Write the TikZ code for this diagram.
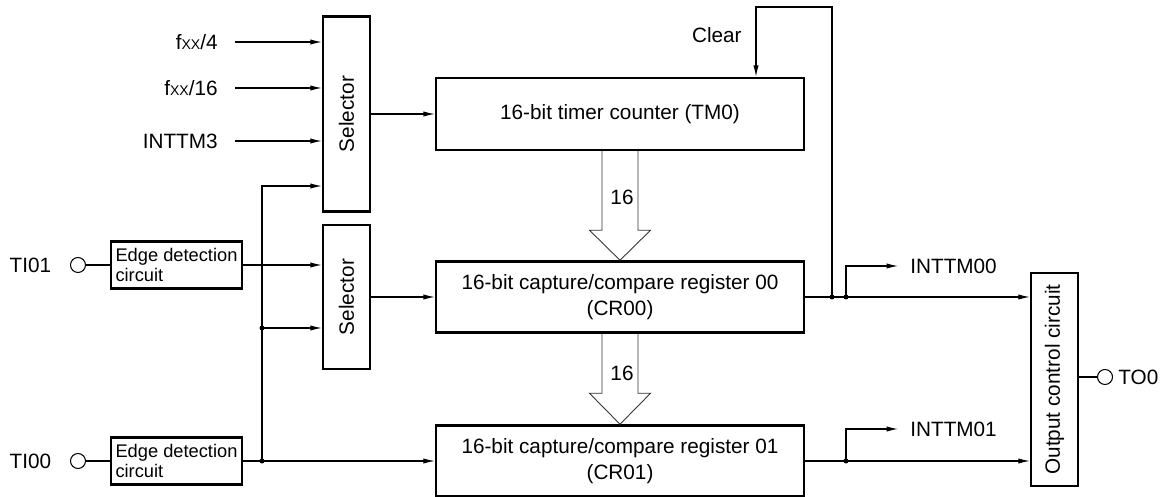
\documentclass[tikz,border=0pt]{standalone}
\usepackage{fontspec}
\setmainfont{Liberation Sans}
\usepackage{tikz}
\usetikzlibrary{positioning}
\usetikzlibrary{arrows.meta}
\tikzset{
    mybox/.style = {rectangle, line width=1.4pt, draw=black, align=center, inner sep=0pt, font=\fontsize{11.8}{15}\selectfont},
    myedge/.style = {rectangle, line width=1.4pt, draw=black, align=left, inner sep=0pt, minimum width=2.62cm, minimum height=0.94cm, font=\fontsize{10.4}{11.2}\selectfont},
    mypin/.style = {circle, draw=black, line width=0.6pt, minimum size=0.3cm, inner sep=0pt},
    mylabel/.style = {inner sep=0pt, font=\fontsize{11.8}{14}\selectfont},
    wire/.style = {-, line width=0.6pt, black},
    wirea/.style = {wire, -{Latex[length=6.5pt,width=3pt]}},
    bus/.style = {-, line width=0.5pt, black!80, line join=miter},
    jdot/.style = {circle, fill=black, inner sep=0pt, minimum size=0.1cm}
}
\newcommand{\fxx}{f{\fontsize{8}{8}\selectfont XX}}

\begin{document}
\begin{tikzpicture}
\useasboundingbox (0,0) rectangle (23.5,-9.94);

% blocks
\node[mybox, minimum width=0.94cm, minimum height=3.9cm] at (6.93,-2.28) (sel1) {\rotatebox{90}{Selector}};
\node[mybox, minimum width=0.94cm, minimum height=2.88cm] at (6.93,-5.94) (sel2) {\rotatebox{90}{Selector}};
\node[mybox, minimum width=7.36cm, minimum height=1.44cm] at (12.4,-2.28) (tm0) {16-bit timer counter (TM0)};
\node[mybox, minimum width=7.36cm, minimum height=1.42cm] at (12.4,-5.94) (cr00) {16-bit capture/compare register 00\\(CR00)};
\node[mybox, minimum width=7.36cm, minimum height=1.42cm] at (12.4,-9.22) (cr01) {16-bit capture/compare register 01\\(CR01)};
\node[myedge] at (3.53,-5.3) (edge1) {Edge detection\\circuit};
\node[myedge] at (3.53,-9.22) (edge2) {Edge detection\\circuit};
\node[mybox, minimum width=0.94cm, minimum height=4.26cm] at (21.09,-7.59) (outc) {\rotatebox{90}{Output control circuit}};

% pins
\node[mypin] at (1.56,-5.3) (ti01) {};
\node[mypin] at (1.56,-9.22) (ti00) {};
\node[mypin] at (22.1,-7.54) (to0) {};
\node[mylabel, left=0.37cm of ti01] (ti01l) {TI01};
\node[mylabel, left=0.37cm of ti00] (ti00l) {TI00};
\node[mylabel, right=0.1cm of to0] (to0l) {TO0};

% count clock inputs
\coordinate (fin1) at (4.7,-0.84);
\coordinate (fin2) at (4.7,-1.76);
\coordinate (fin3) at (4.7,-2.82);
\node[mylabel, left=0.34cm of fin1] (fin1l) {\fxx/4};
\node[mylabel, left=0.34cm of fin2] (fin2l) {\fxx/16};
\node[mylabel, left=0.34cm of fin3] (fin3l) {INTTM3};
\draw[wirea] (fin1) -- (fin1 -| sel1.west);
\draw[wirea] (fin2) -- (fin2 -| sel1.west);
\draw[wirea] (fin3) -- (fin3 -| sel1.west);

% TI00 / TI01 paths
\coordinate (jt) at (5.24,-3.72);
\coordinate (j1) at (5.24,-6.56);
\coordinate (j2) at (5.24,-9.22);
\draw[wire] (ti01) -- (edge1);
\draw[wire] (ti00) -- (edge2);
\draw[wirea] (edge1.east) -- (edge1.east -| sel2.west);
\draw[wirea] (edge2.east) -- (cr01.west);
\draw[wirea] (j2) -- (jt) -- (jt -| sel1.west);
\draw[wirea] (j1) -- (j1 -| sel2.west);
\node[jdot] at (j1) {};
\node[jdot] at (j2) {};

% selectors to counter / register
\draw[wirea] (sel1.east) -- (tm0.west);
\draw[wirea] (sel2.east) -- (cr00.west);

% 16-bit buses
\draw[bus] ([xshift=-0.36cm]tm0.south) -- ([xshift=-0.36cm,yshift=0.6cm]cr00.north) -- ++(-0.25,0) -- (cr00.north) -- ([xshift=0.61cm,yshift=0.6cm]cr00.north) -- ++(-0.25,0) -- ([xshift=0.36cm]tm0.south);
\draw[bus] ([xshift=-0.36cm]cr00.south) -- ([xshift=-0.36cm,yshift=0.62cm]cr01.north) -- ++(-0.25,0) -- (cr01.north) -- ([xshift=0.61cm,yshift=0.62cm]cr01.north) -- ++(-0.25,0) -- ([xshift=0.36cm]cr00.south);
\node[mylabel] at (12.44,-3.94) (bus1l) {16};
\node[mylabel] at (12.44,-7.46) (bus2l) {16};

% clear loop
\coordinate (jc) at (16.64,-5.94);
\coordinate (clr) at (15.12,-0.14);
\draw[wirea] (jc) |- (clr) -- (clr |- tm0.north);
\node[mylabel, anchor=east] at (14.84,-0.7) (clrl) {Clear};

% interrupt outputs
\coordinate (ji0) at (16.92,-5.94);
\coordinate (ji1) at (16.92,-9.22);
\coordinate (int0) at (17.96,-5.32);
\coordinate (int1) at (17.96,-8.58);
\draw[wirea] (cr00.east) -- (cr00.east -| outc.west);
\draw[wirea] (cr01.east) -- (cr01.east -| outc.west);
\draw[wirea] (ji0) |- (int0);
\draw[wirea] (ji1) |- (int1);
\node[mylabel, right=0.24cm of int0] (int0l) {INTTM00};
\node[mylabel, right=0.24cm of int1] (int1l) {INTTM01};
\node[jdot] at (jc) {};
\node[jdot] at (ji0) {};
\node[jdot] at (ji1) {};

% output
\draw[wire] (outc.east |- to0) -- (to0);

\end{tikzpicture}
\end{document}
